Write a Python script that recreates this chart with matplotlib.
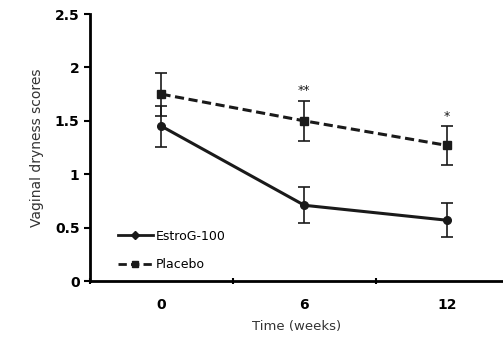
import matplotlib
matplotlib.use("Agg")
import matplotlib.pyplot as plt
from matplotlib.lines import Line2D
import numpy as np

weeks = ["0", "6", "12"]
estrog_mean = [1.45, 0.71, 0.57]
estrog_err = [0.19, 0.17, 0.16]
placebo_mean = [1.75, 1.50, 1.27]
placebo_err = [0.20, 0.19, 0.18]
sig_labels = ["", "**", "*"]
yticks = [0, 0.5, 1, 1.5, 2, 2.5]
ytick_labels = ["0", "0.5", "1", "1.5", "2", "2.5"]

fig = plt.figure(figsize=(5.03, 3.51), dpi=100)
ax = fig.add_axes([0.179, 0.199, 0.821, 0.761])
x = np.arange(len(weeks))

ax.errorbar(x, estrog_mean, yerr=estrog_err, color="#1a1a1a", lw=2.2, marker="o",
            ms=5.5, capsize=4, elinewidth=1.2, capthick=1.2)
ax.errorbar(x, placebo_mean, yerr=placebo_err, color="#1a1a1a", lw=2.2, ls=(0, (3, 1.5)),
            marker="s", ms=5.5, capsize=4, elinewidth=1.2, capthick=1.2)

for xi, m, e, s in zip(x, placebo_mean, placebo_err, sig_labels):
    if s:
        ax.text(xi, m + e + 0.03, s, ha="center", va="bottom", fontsize=9, color="#1a1a1a")

ax.set_xlim(-0.5, 2.39)
ax.set_ylim(0, 2.5)
ax.set_xticks(x)
ax.set_xticklabels(weeks, fontsize=10, fontweight="bold")
ax.set_xticks([-0.5, 0.5, 1.5], minor=True)
ax.tick_params(axis="x", which="major", length=0, pad=12)
ax.tick_params(axis="x", which="minor", length=4, width=1.5, direction="inout")
ax.set_yticks(yticks)
ax.set_yticklabels(ytick_labels, fontsize=10, fontweight="bold")
ax.tick_params(axis="y", length=4, width=1.5, direction="out")
for sp in ["top", "right"]:
    ax.spines[sp].set_visible(False)
for sp in ["left", "bottom"]:
    ax.spines[sp].set_linewidth(2)

ax.set_ylabel("Vaginal dryness scores", fontsize=10, color="#333333", labelpad=8)
ax.set_xlabel("Time (weeks)", fontsize=9.5, color="#333333", labelpad=6)

handles = [
    Line2D([], [], color="#1a1a1a", lw=2, marker="D", ms=4, label="EstroG-100"),
    Line2D([], [], color="#1a1a1a", lw=2, ls=(0, (3, 1.5)), marker="s", ms=4, label="Placebo"),
]
ax.legend(handles=handles, loc="lower left", bbox_to_anchor=(0.04, -0.005), frameon=False,
          fontsize=9, handlelength=2.8, handletextpad=0.2, labelspacing=1.25)

fig.savefig("out.png", dpi=100)
